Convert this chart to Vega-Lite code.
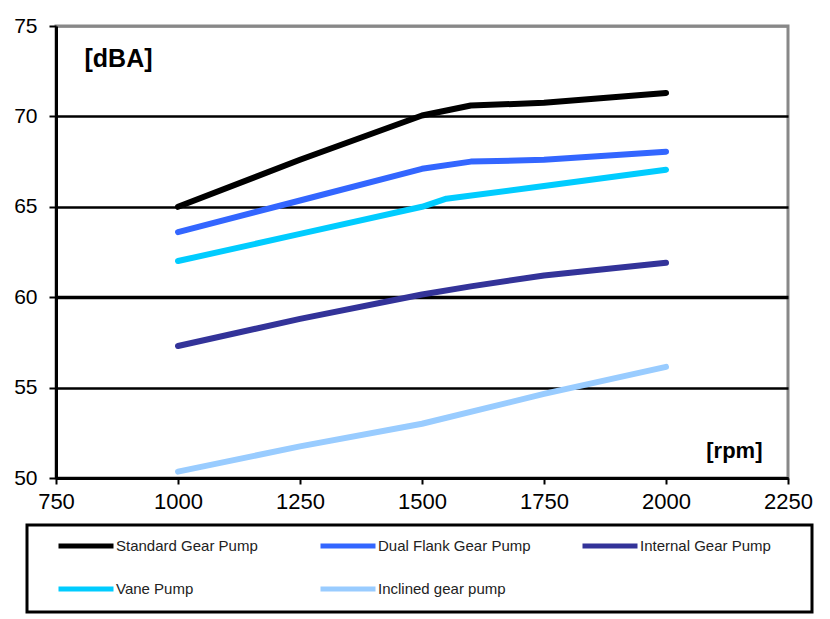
{
  "$schema": "https://vega.github.io/schema/vega-lite/v6.json",
  "width": 732,
  "height": 452,
  "autosize": {"type": "none"},
  "padding": {"left": 56, "top": 26, "right": 42, "bottom": 141},
  "background": "white",
  "data": {
    "values": [
      {"pump": "Standard Gear Pump", "rpm": 1000, "dba": 65.0},
      {"pump": "Standard Gear Pump", "rpm": 1250, "dba": 67.6},
      {"pump": "Standard Gear Pump", "rpm": 1500, "dba": 70.05},
      {"pump": "Standard Gear Pump", "rpm": 1600, "dba": 70.6},
      {"pump": "Standard Gear Pump", "rpm": 1750, "dba": 70.75},
      {"pump": "Standard Gear Pump", "rpm": 2000, "dba": 71.3},
      {"pump": "Dual Flank Gear Pump", "rpm": 1000, "dba": 63.6},
      {"pump": "Dual Flank Gear Pump", "rpm": 1250, "dba": 65.35},
      {"pump": "Dual Flank Gear Pump", "rpm": 1500, "dba": 67.1},
      {"pump": "Dual Flank Gear Pump", "rpm": 1600, "dba": 67.5},
      {"pump": "Dual Flank Gear Pump", "rpm": 1750, "dba": 67.6},
      {"pump": "Dual Flank Gear Pump", "rpm": 2000, "dba": 68.05},
      {"pump": "Internal Gear Pump", "rpm": 1000, "dba": 57.3},
      {"pump": "Internal Gear Pump", "rpm": 1250, "dba": 58.8},
      {"pump": "Internal Gear Pump", "rpm": 1500, "dba": 60.15},
      {"pump": "Internal Gear Pump", "rpm": 1600, "dba": 60.6},
      {"pump": "Internal Gear Pump", "rpm": 1750, "dba": 61.2},
      {"pump": "Internal Gear Pump", "rpm": 2000, "dba": 61.9},
      {"pump": "Vane Pump", "rpm": 1000, "dba": 62.0},
      {"pump": "Vane Pump", "rpm": 1250, "dba": 63.5},
      {"pump": "Vane Pump", "rpm": 1500, "dba": 65.0},
      {"pump": "Vane Pump", "rpm": 1550, "dba": 65.45},
      {"pump": "Vane Pump", "rpm": 1750, "dba": 66.15},
      {"pump": "Vane Pump", "rpm": 2000, "dba": 67.05},
      {"pump": "Inclined gear pump", "rpm": 1000, "dba": 50.35},
      {"pump": "Inclined gear pump", "rpm": 1250, "dba": 51.75},
      {"pump": "Inclined gear pump", "rpm": 1500, "dba": 53.0},
      {"pump": "Inclined gear pump", "rpm": 1750, "dba": 54.65},
      {"pump": "Inclined gear pump", "rpm": 2000, "dba": 56.15}
    ]
  },
  "mark": {"type": "line", "strokeWidth": 6, "strokeCap": "round", "strokeJoin": "round"},
  "encoding": {
    "x": {
      "field": "rpm",
      "type": "quantitative",
      "scale": {"domain": [750, 2250], "nice": false, "zero": false},
      "axis": {
        "values": [750, 1000, 1250, 1500, 1750, 2000, 2250],
        "format": "d",
        "grid": false,
        "domainColor": "black",
        "domainWidth": 3,
        "tickColor": "black",
        "tickWidth": 2,
        "tickSize": 6,
        "labelFontSize": 22,
        "labelColor": "black",
        "labelPadding": 7,
        "labelFlush": false,
        "title": "[rpm]",
        "titleX": 706,
        "titleY": -21,
        "titleAlign": "right",
        "titleBaseline": "alphabetic",
        "titleFontSize": 22,
        "titleFontWeight": "bold",
        "titleColor": "black"
      }
    },
    "y": {
      "field": "dba",
      "type": "quantitative",
      "scale": {"domain": [50, 75], "nice": false, "zero": false},
      "axis": {
        "values": [50, 55, 60, 65, 70, 75],
        "grid": true,
        "gridColor": {"condition": {"test": "datum.value == 75", "value": "#888888"}, "value": "black"},
        "gridWidth": {"condition": {"test": "datum.value == 60", "value": 3.5}, "value": 2.5},
        "gridOpacity": 1,
        "domainColor": "black",
        "domainWidth": 3,
        "tickColor": "black",
        "tickWidth": 2,
        "tickSize": 7,
        "labelFontSize": 21,
        "labelColor": "black",
        "labelPadding": 12,
        "title": "[dBA]",
        "titleAngle": 0,
        "titleX": 28,
        "titleY": 40,
        "titleAlign": "left",
        "titleBaseline": "alphabetic",
        "titleFontSize": 25,
        "titleFontWeight": "bold",
        "titleColor": "black"
      }
    },
    "color": {
      "field": "pump",
      "type": "nominal",
      "scale": {
        "domain": ["Standard Gear Pump", "Dual Flank Gear Pump", "Internal Gear Pump", "Vane Pump", "Inclined gear pump"],
        "range": ["#000000", "#3366FF", "#333399", "#00CCFF", "#99CCFF"]
      },
      "legend": {
        "orient": "none",
        "legendX": -29,
        "legendY": 499,
        "direction": "horizontal",
        "columns": 3,
        "title": null,
        "symbolType": "M-5,0H5M32.5,0",
        "symbolSize": 121,
        "symbolStrokeWidth": 5,
        "symbolOffset": 38,
        "labelOffset": 22,
        "labelFontSize": 15,
        "labelColor": "#222222",
        "strokeColor": "black",
        "padding": 13,
        "gridAlign": "all",
        "columnPadding": 27,
        "rowPadding": 23
      }
    }
  },
  "config": {
    "font": "Liberation Sans",
    "view": {"stroke": "#888888", "strokeWidth": 3},
    "legend": {"strokeWidth": 3}
  }
}
